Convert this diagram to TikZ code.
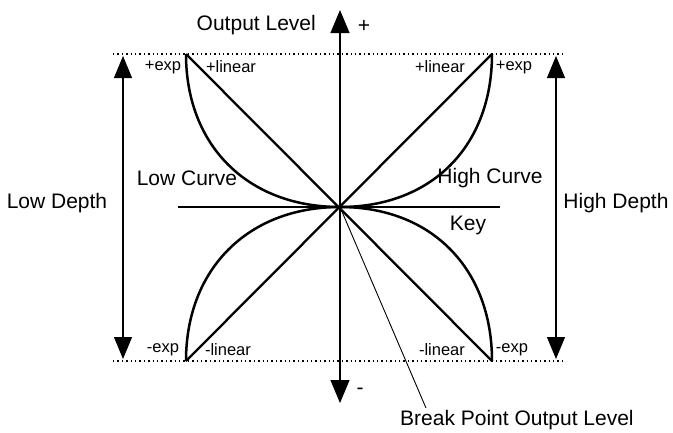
\documentclass[tikz,border=0pt]{standalone}
\usepackage{fontspec}
\setmainfont{Liberation Sans}
\usetikzlibrary{arrows.meta,calc}
\begin{document}
\begin{tikzpicture}[x=1pt,y=-1pt,
  biglabel/.style={inner sep=0pt, font=\fontsize{21}{25}\selectfont},
  smalllabel/.style={inner sep=0pt, font=\fontsize{16.5}{19}\selectfont},
  thinline/.style={line width=1.1pt},
  curveline/.style={line width=2.5pt},
  linline/.style={line width=2.3pt},
  dotline/.style={line width=1.4pt, dash pattern=on 1.4pt off 3pt},
  bigtip/.style={-{Triangle[length=23pt,width=19pt]}},
  depthtip/.style={{Triangle[length=22pt,width=18pt]}-{Triangle[length=22pt,width=18pt]}}
]
\useasboundingbox (0,0) rectangle (673,432);
% key points
\coordinate (O) at (340,207);
\coordinate (TL) at (186,54);
\coordinate (TR) at (492,54);
\coordinate (BL) at (186,361);
\coordinate (BR) at (492,361);
\coordinate (dotTL) at (113,54);
\coordinate (dotTR) at (566,54);
\coordinate (dotBL) at (113,361);
\coordinate (dotBR) at (566,361);
\coordinate (axTop) at (340,10);
\coordinate (axBot) at (340,403);
\coordinate (keyL) at (178,207);
\coordinate (keyR) at (500,207);
\coordinate (ldT) at (123,56);
\coordinate (ldB) at (123,359);
\coordinate (hdT) at (556,56);
\coordinate (hdB) at (556,359);
\coordinate (bpEnd) at (426,408);

% dotted reference lines
\draw[dotline] (dotTL) -- (dotTR);
\draw[dotline] (dotBL) -- (dotBR);

% axes
\draw[thinline] (keyL) -- (keyR);
\draw[thinline, bigtip] (O) -- (axTop);
\draw[thinline, bigtip] (O) -- (axBot);

% depth arrows
\draw[thinline, depthtip] (ldT) -- (ldB);
\draw[thinline, depthtip] (hdT) -- (hdB);

% linear lines
\draw[linline] (TL) -- (BR);
\draw[linline] (TR) -- (BL);

% exp curves
\draw[curveline] (O) .. controls ($(O)+(-92,0)$) and ($(TL)+(0,92)$) .. (TL);
\draw[curveline] (O) .. controls ($(O)+(92,0)$) and ($(TR)+(0,92)$) .. (TR);
\draw[curveline] (O) .. controls ($(O)+(-92,0)$) and ($(BL)+(0,-92)$) .. (BL);
\draw[curveline] (O) .. controls ($(O)+(92,0)$) and ($(BR)+(0,-92)$) .. (BR);

% break point line
\draw[line width=0.9pt] (O) -- (bpEnd);

% labels
\node[biglabel, anchor=east] (outlvl) at (316,25) {Output Level};
\node[biglabel] (plus) at (364,26) {+};
\node[biglabel] (minus) at (360,391) {-};
\node[biglabel] (lowdepth) at (57,203) {Low Depth};
\node[biglabel] (highdepth) at (616,203) {High Depth};
\node[biglabel] (lowcurve) at (187,178) {Low Curve};
\node[biglabel] (highcurve) at (490,178) {High Curve};
\node[biglabel] (key) at (468,225) {Key};
\node[biglabel, anchor=west] (bp) at (400,420) {Break Point Output Level};

\node[smalllabel] (expTL) at (163,67) {+exp};
\node[smalllabel] (linTL) at (231,67) {+linear};
\node[smalllabel] (linTR) at (440,67) {+linear};
\node[smalllabel] (expTR) at (514,67) {+exp};
\node[smalllabel] (expBL) at (163,350) {-exp};
\node[smalllabel] (linBL) at (228,350) {-linear};
\node[smalllabel] (linBR) at (442,350) {-linear};
\node[smalllabel] (expBR) at (512,350) {-exp};
\end{tikzpicture}
\end{document}
